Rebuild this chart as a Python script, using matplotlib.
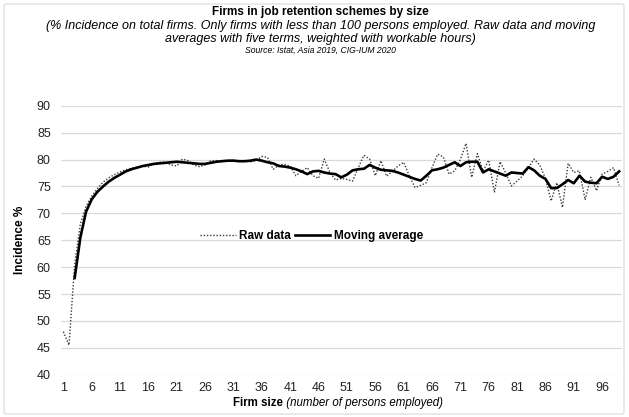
import matplotlib
matplotlib.use("Agg")
import matplotlib.pyplot as plt
from matplotlib.patches import FancyBboxPatch

plt.rcParams['font.family'] = ['Liberation Sans', 'DejaVu Sans']

# Firm size (persons employed)
firm_size = list(range(1, 100))

# Incidence % of firms in job retention schemes, raw values
raw_data = [
    48.0, 45.5, 60.5, 68.0, 71.3, 73.2, 74.6, 75.8, 76.6, 77.2,
    77.7, 78.1, 78.4, 78.6, 78.8, 78.6, 79.3, 79.5, 79.5, 79.0,
    78.8, 80.1, 79.8, 79.0, 78.7, 79.0, 79.8, 79.8, 79.7, 79.7,
    79.9, 79.6, 79.8, 79.6, 79.8, 80.6, 80.4, 78.2, 79.0, 79.1,
    78.8, 77.0, 77.8, 78.5, 77.0, 76.5, 80.1, 77.6, 76.2, 76.5,
    76.3, 76.0, 78.5, 80.8, 80.1, 77.0, 79.8, 76.9, 77.8, 78.8,
    79.5, 77.0, 74.8, 75.2, 75.7, 78.5, 81.0, 80.5, 77.3, 77.9,
    80.0, 83.0, 76.7, 81.1, 77.9, 79.9, 73.9, 79.6, 77.5, 75.1,
    76.0, 77.0, 78.5, 80.1, 79.0, 76.5, 72.3, 75.7, 71.1, 79.3,
    77.6, 77.9, 72.5, 76.7, 74.2, 77.3, 77.8, 78.5, 75.2,
]

# Five-term moving average weighted with workable hours (from size 3 onward)
ma_size = list(range(3, 100))
moving_avg = [
    58.0, 65.5, 70.3, 72.6, 74.0, 75.0, 75.9, 76.6,
    77.2, 77.8, 78.2, 78.5, 78.8, 79.0, 79.2, 79.3, 79.4, 79.5,
    79.6, 79.5, 79.4, 79.3, 79.2, 79.2, 79.4, 79.6, 79.7, 79.8,
    79.8, 79.7, 79.7, 79.8, 80.0, 79.8, 79.5, 79.3, 78.8, 78.7,
    78.5, 78.2, 77.8, 77.3, 77.8, 77.9, 77.6, 77.4, 77.3, 76.7,
    77.2, 78.0, 78.2, 78.3, 79.0, 78.5, 78.1, 78.0, 77.9, 77.6,
    77.2, 76.8, 76.4, 76.1, 77.0, 78.0, 78.2, 78.5, 79.0, 79.5,
    78.8, 79.5, 79.6, 79.6, 77.6, 78.2, 77.8, 77.4, 77.0, 77.6,
    77.5, 77.4, 78.6, 78.0, 77.0, 76.4, 74.7, 74.7, 75.4, 76.2,
    75.6, 77.0, 75.9, 75.7, 75.6, 76.8, 76.4, 76.8, 77.8,
]

y_ticks = list(range(40, 91, 5))
x_ticks = list(range(1, 100, 5))

W, H = 629, 417
fig = plt.figure(figsize=(W / 100, H / 100), dpi=100)

# chart-area frame
frame = FancyBboxPatch((4 / W, 3 / H), (W - 9) / W, (H - 7) / H,
                       boxstyle="round,pad=0,rounding_size=0.004",
                       transform=fig.transFigure, facecolor='none',
                       edgecolor='#d9d9d9', linewidth=0.8, zorder=-5)
fig.patches.append(frame)

left, right = 60.5, 622.0
top, bottom = 105.8, 374.7
ax = fig.add_axes([left / W, 1 - bottom / H, (right - left) / W, (bottom - top) / H])
ax.set_facecolor('none')

ax.plot(firm_size, raw_data, color='#3a3a3a', linestyle=(0, (1, 1.3)),
        linewidth=1.0, label='Raw data', zorder=3)
ax.plot(ma_size, moving_avg, color='black', linewidth=1.9,
        label='Moving average', zorder=4)

ax.set_xlim(0.5, 99.5)
ax.set_ylim(40, 90)
ax.set_yticks(y_ticks)
ax.set_xticks(x_ticks)
ax.grid(axis='y', color='#d9d9d9', linewidth=0.9)
ax.set_axisbelow(True)
for s in ax.spines.values():
    s.set_visible(False)
ax.tick_params(length=0, labelsize=9, colors='#222222')
ax.tick_params(axis='y', pad=7)
ax.tick_params(axis='x', pad=5)

ax.set_ylabel('Incidence %', fontsize=8.5, fontweight='bold', labelpad=8)

leg = ax.legend(loc='center', bbox_to_anchor=(0.447, 0.515), ncol=2,
                frameon=False, handlelength=3.0, handletextpad=0.3,
                columnspacing=0.3, prop={'weight': 'bold', 'size': 8.5})

# titles
cx = 0.51
fig.text(cx, 1 - 12 / H, 'Firms in job retention schemes by size',
         ha='center', va='center', fontsize=8.5, fontweight='bold')
fig.text(cx, 1 - 26 / H,
         '(% Incidence on total firms. Only firms with less than 100 persons employed. Raw data and moving',
         ha='center', va='center', fontsize=9.0, style='italic')
fig.text(cx, 1 - 39 / H, 'averages with five terms, weighted with workable hours)',
         ha='center', va='center', fontsize=9.0, style='italic')
fig.text(cx, 1 - 50 / H, 'Source: Istat, Asia 2019, CIG-IUM 2020',
         ha='center', va='center', fontsize=6.2, style='italic')

# x-axis title: bold part followed by italic part
t1 = fig.text(0, 1 - 403 / H, 'Firm size', ha='left', va='center',
              fontsize=8.3, fontweight='bold')
t2 = fig.text(0, 1 - 403 / H, ' (number of persons employed)', ha='left',
              va='center', fontsize=8.3, style='italic')
fig.canvas.draw()
r = fig.canvas.get_renderer()
w1 = t1.get_window_extent(r).width
w2 = t2.get_window_extent(r).width
x0 = 338 - (w1 + w2) / 2
t1.set_x(x0 / W)
t2.set_x((x0 + w1) / W)

fig.savefig('out.png', dpi=100)
